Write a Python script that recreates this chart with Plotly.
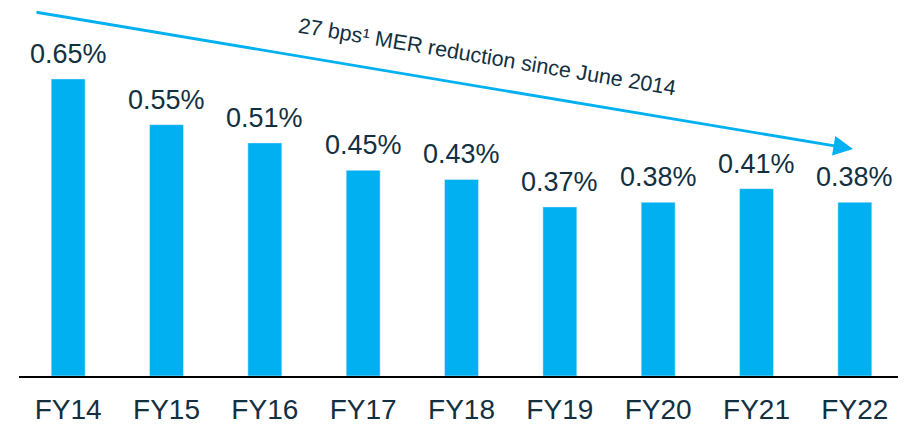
import plotly.graph_objects as go

categories = ["FY14", "FY15", "FY16", "FY17", "FY18", "FY19", "FY20", "FY21", "FY22"]
mer_values = [0.65, 0.55, 0.51, 0.45, 0.43, 0.37, 0.38, 0.41, 0.38]
value_labels = ["0.65%", "0.55%", "0.51%", "0.45%", "0.43%", "0.37%", "0.38%", "0.41%", "0.38%"]
arrow_text = "27 bps¹ MER reduction since June 2014"

BAR = "#00b0f0"
TXT = "#12303f"
FONT = "Arial, Liberation Sans, sans-serif"

# page has an 8px body margin; work in page pixels and convert
OFF = 8
W, H = 906 - OFF, 424 - OFF
ml, mr, mt, mb = 19 - OFF, 2, 0, 48
pw, ph = W - ml - mr, H - mt - mb
PX_PER_UNIT = 457  # vertical pixels per 1.0 (i.e. per 1%) in the reference

def px(x):
    return (x - OFF - ml) / pw

def py(y):
    return (H - mb - (y - OFF)) / ph

fig = go.Figure()
fig.add_trace(go.Bar(x=categories, y=mer_values, marker_color=BAR, width=0.345,
                     hoverinfo="skip"))

for c, v, t in zip(categories, mer_values, value_labels):
    fig.add_annotation(x=c, y=v, xref="x", yref="y", text=t, showarrow=False,
                       yanchor="bottom", yshift=8,
                       font=dict(size=27, color=TXT, family=FONT))

# arrow
tip = (853, 149)
start = (35, 12)
fig.add_annotation(x=px(tip[0]), y=py(tip[1]), xref="paper", yref="paper",
                   ax=start[0] - tip[0], ay=start[1] - tip[1],
                   showarrow=True, arrowhead=2, arrowsize=1.4, arrowwidth=2.8,
                   arrowcolor=BAR, standoff=0, startstandoff=0, text="")
fig.add_annotation(x=px(487), y=py(57), xref="paper", yref="paper",
                   text=arrow_text, showarrow=False, textangle=9.5,
                   xanchor="center", yanchor="middle",
                   font=dict(size=21.5, color=TXT, family=FONT))

fig.update_layout(
    width=W, height=H,
    margin=dict(l=ml, r=mr, t=mt, b=mb, autoexpand=False),
    paper_bgcolor="white", plot_bgcolor="white",
    showlegend=False,
    xaxis=dict(showline=True, linecolor="black", linewidth=2, ticks="",
               tickfont=dict(size=28, color=TXT, family=FONT),
               ticklabelstandoff=7, showgrid=False, zeroline=False,
               automargin=False, fixedrange=True),
    yaxis=dict(range=[0, ph / PX_PER_UNIT], visible=False, showgrid=False,
               zeroline=False, automargin=False, fixedrange=True),
)

fig.write_html("out.html")
